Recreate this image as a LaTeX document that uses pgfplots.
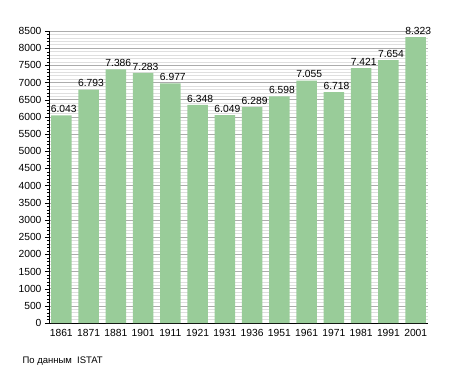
\documentclass[border=0pt]{standalone}
\usepackage{pgfplots}
\pgfplotsset{compat=1.18}
\usepackage{fontspec}
\setmainfont{Liberation Sans}
\definecolor{barg}{RGB}{153,204,153}
\begin{document}
\begin{tikzpicture}[x=1pt,y=1pt]
\path[use as bounding box] (0,0) rectangle (455,373);
\begin{axis}[
  at={(49pt,50pt)}, anchor=south west,
  scale only axis, width=379pt, height=292pt,
  xmin=-0.45, xmax=13.45, ymin=0, ymax=8500,
  axis lines*=left,
  axis line style={black},
  ytick distance=500, minor y tick num=4,
  xtick=data,
  xticklabels={1861,1871,1881,1901,1911,1921,1931,1936,1951,1961,1971,1981,1991,2001},
  x tick style={draw=none},
  y tick style={black},
  tick align=outside,
  major tick length=4pt, minor tick length=2pt,
  ymajorgrids, yminorgrids,
  major grid style={gray!65, line width=0.5pt},
  minor grid style={gray!25, line width=0.5pt},
  tick label style={font=\fontsize{10.3}{12}\selectfont},
  /pgf/number format/assume math mode=true,
  scaled y ticks=false,
  yticklabel style={/pgf/number format/.cd, set thousands separator={}},
  xticklabel style={yshift=1pt},
  enlargelimits=false,
  clip=false,
]
\addplot[ybar, bar width=20.5pt, fill=barg, draw=none,
  nodes near coords,
  nodes near coords style={font=\fontsize{10.3}{12}\selectfont, inner sep=2.5pt, xshift=2.5pt,
    /pgf/number format/.cd, 1000 sep={.}, assume math mode=true}]
  coordinates {(0,6043) (1,6793) (2,7386) (3,7283) (4,6977) (5,6348) (6,6049)
  (7,6289) (8,6598) (9,7055) (10,6718) (11,7421) (12,7654) (13,8323)};
\end{axis}
\node[anchor=west, font=\fontsize{9.5}{11}\selectfont] at (19,12) {По данным\ \ ISTAT};
\end{tikzpicture}
\end{document}
